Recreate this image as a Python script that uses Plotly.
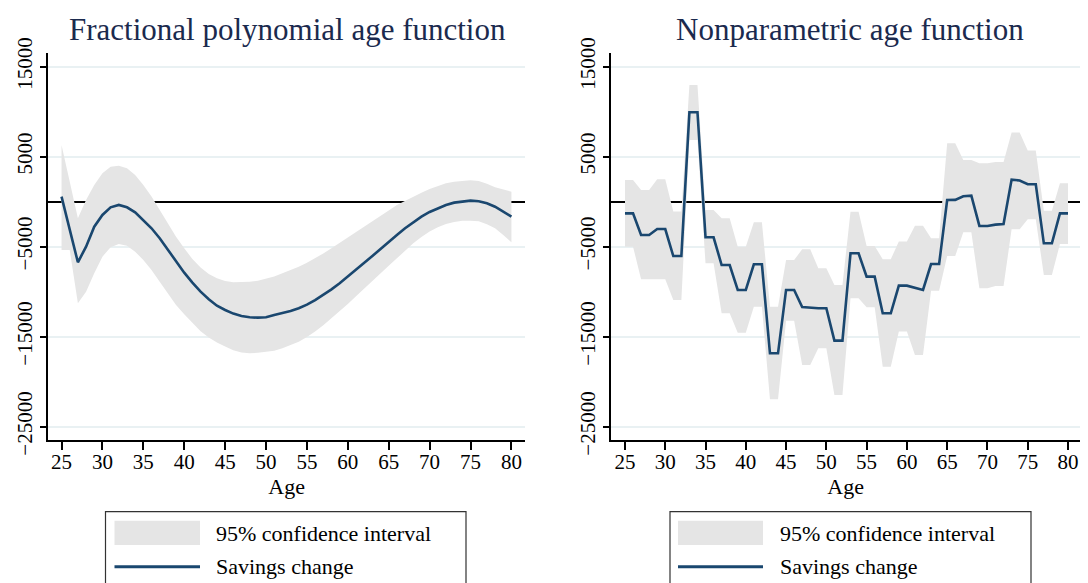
import plotly.graph_objects as go

# ---------------- data ----------------
ages = list(range(25, 81))
age_ticks = [25, 30, 35, 40, 45, 50, 55, 60, 65, 70, 75, 80]
y_ticks = [15000, 5000, -5000, -15000, -25000]
y_ticktext = ["15000", "5000", "\u22125000", "\u221215000", "\u221225000"]

# Fractional polynomial age function
fp_est = [560, -3090, -6740, -5000, -2780, -1480, -630, -370, -630, -1190,
          -2040, -2960, -4070, -5370, -6670, -7890, -9000, -10000, -10850, -11560,
          -12040, -12440, -12700, -12850, -12890, -12850, -12590, -12400, -12150, -11850,
          -11440, -10930, -10370, -9740, -9070, -8330, -7590, -6850, -6040, -5260,
          -4440, -3700, -2960, -2300, -1670, -1150, -740, -370, -110, 40,
          110, 40, -190, -560, -1110, -1670]
fp_hi = [6300, 2220, -1850, 185, 1850, 3150, 3890, 4000, 3700, 2960,
         1850, 560, -930, -2410, -3890, -5190, -6370, -7330, -8040, -8520,
         -8810, -8960, -8930, -8890, -8780, -8590, -8330, -7960, -7600, -7220,
         -6780, -6300, -5760, -5190, -4600, -4000, -3390, -2780, -2180, -1590,
         -980, -370, 110, 560, 1000, 1410, 1750, 2040, 2220, 2330,
         2370, 2300, 2000, 1590, 1350, 1100]
fp_lo = [-5370, -5370, -11300, -10000, -7960, -6110, -5070, -4700, -4890, -5560,
         -6480, -7590, -8890, -10190, -11480, -12500, -13500, -14400, -15100, -15650,
         -16100, -16500, -16750, -16850, -16800, -16700, -16560, -16300, -15960, -15560,
         -15040, -14440, -13720, -12960, -12170, -11370, -10500, -9630, -8800, -7960,
         -7130, -6300, -5460, -4630, -3930, -3330, -2850, -2480, -2250, -2110,
         -2110, -2180, -2500, -2960, -3700, -4500]

# Nonparametric age function
np_est = [-1300, -1300, -3700, -3700, -3040, -3040, -6040, -6040, 9930, 9930,
          -3960, -3960, -7040, -7040, -9810, -9810, -6960, -6960, -16850, -16850,
          -9810, -9810, -11700, -11800, -11850, -11850, -15440, -15440, -5740, -5740,
          -8330, -8330, -12400, -12400, -9330, -9330, -9600, -9810, -6930, -6930,
          185, 200, 600, 670, -2700, -2700, -2550, -2480, 2450, 2350,
          1930, 1930, -4630, -4630, -1300, -1300]
np_hi = [2400, 2400, 1300, 1300, 2480, 2480, -1100, -1100, 12960, 12960,
         -930, -930, -1850, -1850, -5000, -5000, -2300, -2300, -11670, -11670,
         -6480, -6480, -5300, -5300, -7400, -7400, -9260, -9260, -1110, -1110,
         -4930, -4930, -6400, -6400, -4440, -4440, -2670, -2670, -4070, -4070,
         6480, 6480, 4630, 4630, 4260, 4260, 4400, 4400, 7670, 7670,
         5670, 5670, -1000, -1000, 2040, 2040]
np_lo = [-5000, -5000, -8630, -8630, -8630, -8630, -10930, -10930, 6850, 6850,
         -6850, -6850, -12400, -12400, -14560, -14560, -11670, -11670, -21960, -21960,
         -13220, -13220, -18150, -18150, -16300, -16300, -21480, -21480, -10740, -10740,
         -11740, -11740, -18330, -18330, -14440, -14440, -17040, -17040, -9890, -9890,
         -6040, -6040, -3400, -3400, -9630, -9630, -9370, -9370, -3070, -3070,
         -1960, -1960, -8150, -8150, -4700, -4700]

titles = ["Fractional polynomial age function", "Nonparametric age function"]
legend_labels = ["95% confidence interval", "Savings change"]

# ---------------- style ----------------
OFF = 8            # page body margin in the browser
W, H = 1080, 583
FONT = "Liberation Serif"
NAVY = "#1a476f"
BAND = "#e5e5e5"
GRID = "#e9f1f3"
TITLE_COLOR = "#1b2a4e"

fig = go.Figure()

panels = [
    dict(est=fp_est, lo=fp_lo, hi=fp_hi, xa="x", ya="y"),
    dict(est=np_est, lo=np_lo, hi=np_hi, xa="x2", ya="y2"),
]
for p in panels:
    fig.add_trace(go.Scatter(x=ages, y=p["hi"], mode="lines", line=dict(width=0, color=BAND),
                             xaxis=p["xa"], yaxis=p["ya"], showlegend=False, hoverinfo="skip"))
    fig.add_trace(go.Scatter(x=ages, y=p["lo"], mode="lines", line=dict(width=0, color=BAND),
                             fill="tonexty", fillcolor=BAND,
                             xaxis=p["xa"], yaxis=p["ya"], showlegend=False, hoverinfo="skip"))
    fig.add_trace(go.Scatter(x=ages, y=p["est"], mode="lines", line=dict(width=2.6, color=NAVY),
                             xaxis=p["xa"], yaxis=p["ya"], showlegend=False))

px_x = lambda v: (v - OFF) / W
px_y = lambda v: 1 - (v - OFF) / H

xdom = [[px_x(48.2), px_x(525)], [px_x(611.2), px_x(1080)]]
xrng = [[23.37, 81.66], [23.29, 81.49]]
ydom = [px_y(440), px_y(53.3)]
yrng = [-26480, 16480]

common_x = dict(tickvals=age_ticks, ticks="outside", ticklen=8, tickwidth=1.5, tickcolor="black",
                showline=True, linecolor="black", linewidth=2, showgrid=False, zeroline=False,
                automargin=False, ticklabelstandoff=-6,
                tickfont=dict(family=FONT, size=21, color="black"),
                title=dict(text="Age", font=dict(family=FONT, size=22, color="black"), standoff=2))
common_y = dict(tickvals=y_ticks, ticktext=y_ticktext, tickangle=-90, ticks="outside", ticklen=6,
                tickwidth=1.5, tickcolor="black", showline=True, linecolor="black", linewidth=2,
                showgrid=True, gridcolor=GRID, gridwidth=1.5, automargin=False,
                zeroline=True, zerolinecolor="black", zerolinewidth=2, range=yrng, domain=ydom,
                tickfont=dict(family=FONT, size=21, color="black"))

fig.update_layout(
    template="none",
    width=W, height=H,
    margin=dict(l=0, r=0, t=0, b=0, pad=0),
    paper_bgcolor="white", plot_bgcolor="white",
    font=dict(family=FONT, color="black"),
    xaxis=dict(domain=xdom[0], range=xrng[0], anchor="y", **common_x),
    yaxis=dict(anchor="x", **common_y),
    xaxis2=dict(domain=xdom[1], range=xrng[1], anchor="y2", **common_x),
    yaxis2=dict(anchor="x2", **common_y),
    showlegend=False,
)

# titles
for cx, t in zip([287, 850], titles):
    fig.add_annotation(text=t, x=px_x(cx), y=px_y(30), xref="paper", yref="paper",
                       showarrow=False, xanchor="center", yanchor="middle",
                       font=dict(family=FONT, size=31, color=TITLE_COLOR))

# legend boxes (drawn as keys)
for bx0, bx1, sx0, sx1, tx in [(105.5, 466, 114.5, 200, 214), (670, 1031, 678, 763, 778)]:
    fig.add_shape(type="rect", xref="paper", yref="paper",
                  x0=px_x(bx0), x1=px_x(bx1), y0=px_y(511.7), y1=px_y(600),
                  line=dict(color="#333333", width=1.2), fillcolor="rgba(0,0,0,0)")
    fig.add_shape(type="rect", xref="paper", yref="paper",
                  x0=px_x(sx0), x1=px_x(sx1), y0=px_y(520.7), y1=px_y(545),
                  line=dict(width=0), fillcolor=BAND)
    fig.add_shape(type="line", xref="paper", yref="paper",
                  x0=px_x(sx0), x1=px_x(sx1), y0=px_y(566.7), y1=px_y(566.7),
                  line=dict(color=NAVY, width=3))
    for ty, lab in zip([533, 566], legend_labels):
        fig.add_annotation(text=lab, x=px_x(tx), y=px_y(ty), xref="paper", yref="paper",
                           showarrow=False, xanchor="left", yanchor="middle",
                           font=dict(family=FONT, size=22, color="black"))

fig.write_html("out.html")
